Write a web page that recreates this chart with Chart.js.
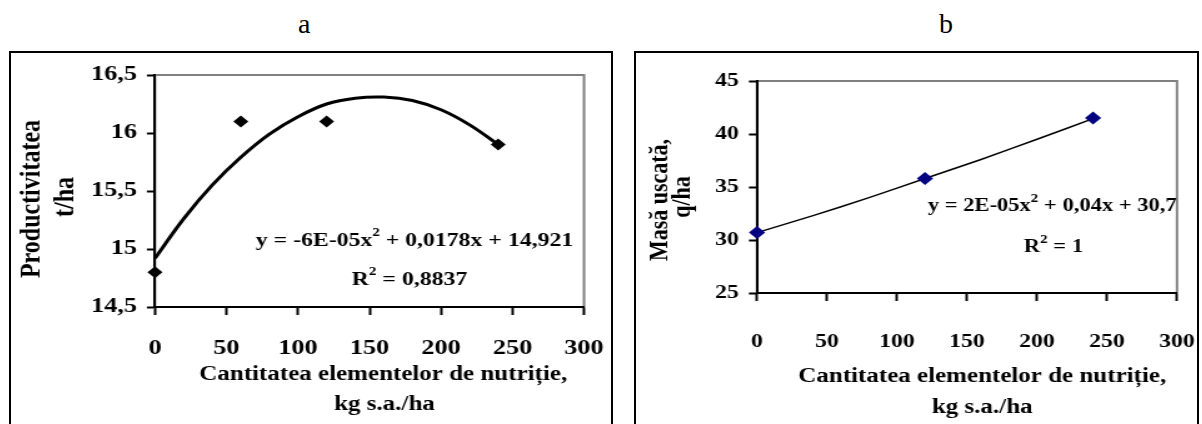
<!DOCTYPE html>
<html>
<head>
<meta charset="utf-8">
<script src="https://cdn.jsdelivr.net/npm/chart.js@4.4.0/dist/chart.umd.min.js"></script>
<style>
body { margin:0; background:#fff; width:1202px; height:424px; overflow:hidden; position:relative; font-family:"Liberation Serif","Times New Roman",serif; }
.panel { position:absolute; top:51px; height:400px; border:2px solid #000; }
.lbl { position:absolute; top:8px; font-size:28px; line-height:32px; }
.wrap { position:absolute; top:54px; transform:scaleX(1.25); transform-origin:0 0; }
canvas { display:block; }
</style>
</head>
<body>
<div class="lbl" style="left:298px">a</div>
<div class="lbl" style="left:939px">b</div>
<div class="panel" style="left:9px;width:600px"></div>
<div class="panel" style="left:634px;width:561px"></div>
<div class="wrap" style="left:12px"><canvas id="chartA" width="478" height="370"></canvas></div>
<div class="wrap" style="left:636px"><canvas id="chartB" width="453" height="370"></canvas></div>
<script>
const FONT = '"Liberation Serif", "Times New Roman", serif';

// axa x comuna
const xTicks = [0, 50, 100, 150, 200, 250, 300];
const xLabels = ['0', '50', '100', '150', '200', '250', '300'];

// a - productivitatea
const dozeA = [0, 60, 120, 240];
const productivitate = [14.8, 16.1, 16.1, 15.9];
const trendXA = [0, 20, 40, 60, 80, 100, 120, 140, 160, 180, 200, 220, 240];
const trendYA = [14.92, 15.26, 15.55, 15.79, 15.99, 16.14, 16.25, 16.30, 16.31, 16.28, 16.20, 16.07, 15.90];
const yTicksA = [14.5, 15, 15.5, 16, 16.5];
const yLabelsA = ['14,5', '15', '15,5', '16', '16,5'];

// b - masa uscata
const dozeB = [0, 120, 240];
const masaUscata = [30.7, 35.8, 41.5];
const trendXB = [0, 40, 80, 120, 160, 200, 240];
const trendYB = [30.7, 32.3, 34.0, 35.8, 37.6, 39.5, 41.45];
const yTicksB = [25, 30, 35, 40, 45];
const yLabelsB = ['25', '30', '35', '40', '45'];

function puncte(xs, ys) {
    return xs.map((x, i) => ({ x: x, y: ys[i] }));
}

// text cu exponent, centrat pe x
function textBogat(ctx, x, y, parti, size) {
    const f = 'bold ' + size + 'px ' + FONT;
    const fs = 'bold ' + Math.round(size * 0.65) + 'px ' + FONT;
    let total = 0;
    parti.forEach(p => { ctx.font = p[1] ? fs : f; total += ctx.measureText(p[0]).width; });
    let cx = x - total / 2;
    ctx.textAlign = 'left';
    ctx.textBaseline = 'middle';
    parti.forEach(p => {
        ctx.font = p[1] ? fs : f;
        ctx.fillText(p[0], cx, p[1] ? y - size * 0.42 : y);
        cx += ctx.measureText(p[0]).width;
    });
}

function textRotit(ctx, x, y, text, size) {
    ctx.save();
    ctx.translate(x, y);
    ctx.rotate(-Math.PI / 2);
    ctx.font = 'bold ' + size + 'px ' + FONT;
    ctx.textAlign = 'center';
    ctx.textBaseline = 'middle';
    ctx.fillText(text, 0, 0);
    ctx.restore();
}

const rama = {
    id: 'rama',
    beforeDraw(chart) {
        const a = chart.chartArea;
        const ctx = chart.ctx;
        ctx.save();
        ctx.strokeStyle = '#808080';
        ctx.lineWidth = 2;
        ctx.strokeRect(a.left, a.top, a.right - a.left, a.bottom - a.top);
        ctx.restore();
    }
};

function texte(lista) {
    return {
        id: 'texte',
        afterDraw(chart) {
            const ctx = chart.ctx;
            ctx.save();
            ctx.fillStyle = '#000';
            lista.forEach(t => {
                if (t.rot) textRotit(ctx, t.x, t.y, t.text, t.size);
                else textBogat(ctx, t.x, t.y, t.parti, t.size);
            });
            ctx.restore();
        }
    };
}

function scale(yTicks, yLabels, yWidth, xHeight, size, padX, padY) {
    const font = { family: FONT, size: size, weight: 'bold' };
    return {
        x: {
            type: 'linear', min: xTicks[0], max: xTicks[xTicks.length - 1],
            afterBuildTicks: s => { s.ticks = xTicks.map(v => ({ value: v })); },
            afterFit: s => { s.height = xHeight; s.paddingLeft = 0; s.paddingRight = 0; },
            ticks: { callback: (v, i) => xLabels[i], color: '#000', font: font, padding: padX, maxRotation: 0 },
            grid: { drawOnChartArea: false, tickLength: 8, tickColor: '#000', tickWidth: 2 },
            border: { color: '#000', width: 2 }
        },
        y: {
            type: 'linear', min: yTicks[0], max: yTicks[yTicks.length - 1],
            afterBuildTicks: s => { s.ticks = yTicks.map(v => ({ value: v })); },
            afterFit: s => { s.width = yWidth; s.paddingTop = 0; s.paddingBottom = 0; },
            ticks: { callback: (v, i) => yLabels[i], color: '#000', font: font, padding: padY },
            grid: { drawOnChartArea: false, tickLength: 6.5, tickColor: '#000', tickWidth: 2 },
            border: { color: '#000', width: 2 }
        }
    };
}

new Chart(document.getElementById('chartA'), {
    type: 'scatter',
    data: {
        datasets: [{
            data: puncte(dozeA, productivitate),
            pointStyle: 'rectRot', pointRadius: 6, clip: false,
            backgroundColor: '#000', borderColor: '#000', borderWidth: 0
        }, {
            type: 'line',
            data: puncte(trendXA, trendYA),
            borderColor: '#000', borderWidth: 3, pointRadius: 0, tension: 0.4, fill: false
        }]
    },
    options: {
        responsive: false, animation: false,
        layout: { padding: { top: 21, right: 20.4, left: 0, bottom: 0 } },
        plugins: { legend: { display: false }, tooltip: { enabled: false } },
        scales: scale(yTicksA, yLabelsA, 114.4, 117, 21, 21, 8)
    },
    plugins: [rama, texte([
        { rot: true, x: 16, y: 145, text: 'Productivitatea', size: 24 },
        { rot: true, x: 42.4, y: 143, text: 't/ha', size: 24 },
        { x: 297, y: 321, parti: [['Cantitatea elementelor de nutriție,']], size: 20 },
        { x: 298, y: 351, parti: [['kg s.a./ha']], size: 20 },
        { x: 322, y: 187, parti: [['y = -6E-05x'], ['2', true], [' + 0,0178x + 14,921']], size: 19 },
        { x: 318, y: 226, parti: [['R'], ['2', true], [' = 0,8837']], size: 19 }
    ])]
});

new Chart(document.getElementById('chartB'), {
    type: 'scatter',
    data: {
        datasets: [{
            data: puncte(dozeB, masaUscata),
            pointStyle: 'rectRot', pointRadius: 6.5, clip: false,
            backgroundColor: '#000080', borderColor: '#000080', borderWidth: 0
        }, {
            type: 'line',
            data: puncte(trendXB, trendYB),
            borderColor: '#000', borderWidth: 1.5, pointRadius: 0, tension: 0.2, fill: false
        }]
    },
    options: {
        responsive: false, animation: false,
        layout: { padding: { top: 27, right: 20.2, left: 0, bottom: 0 } },
        plugins: { legend: { display: false }, tooltip: { enabled: false } },
        scales: scale(yTicksB, yLabelsB, 96.8, 131, 19, 30, 8)
    },
    plugins: [rama, texte([
        { rot: true, x: 19, y: 146, text: 'Masă uscată,', size: 22 },
        { rot: true, x: 37, y: 143, text: 'q/ha', size: 22 },
        { x: 277, y: 323, parti: [['Cantitatea elementelor de nutriție,']], size: 20 },
        { x: 277, y: 354, parti: [['kg s.a./ha']], size: 20 },
        { x: 333, y: 152, parti: [['y = 2E-05x'], ['2', true], [' + 0,04x + 30,7']], size: 18 },
        { x: 334, y: 193, parti: [['R'], ['2', true], [' = 1']], size: 18 }
    ])]
});
</script>
</body>
</html>
